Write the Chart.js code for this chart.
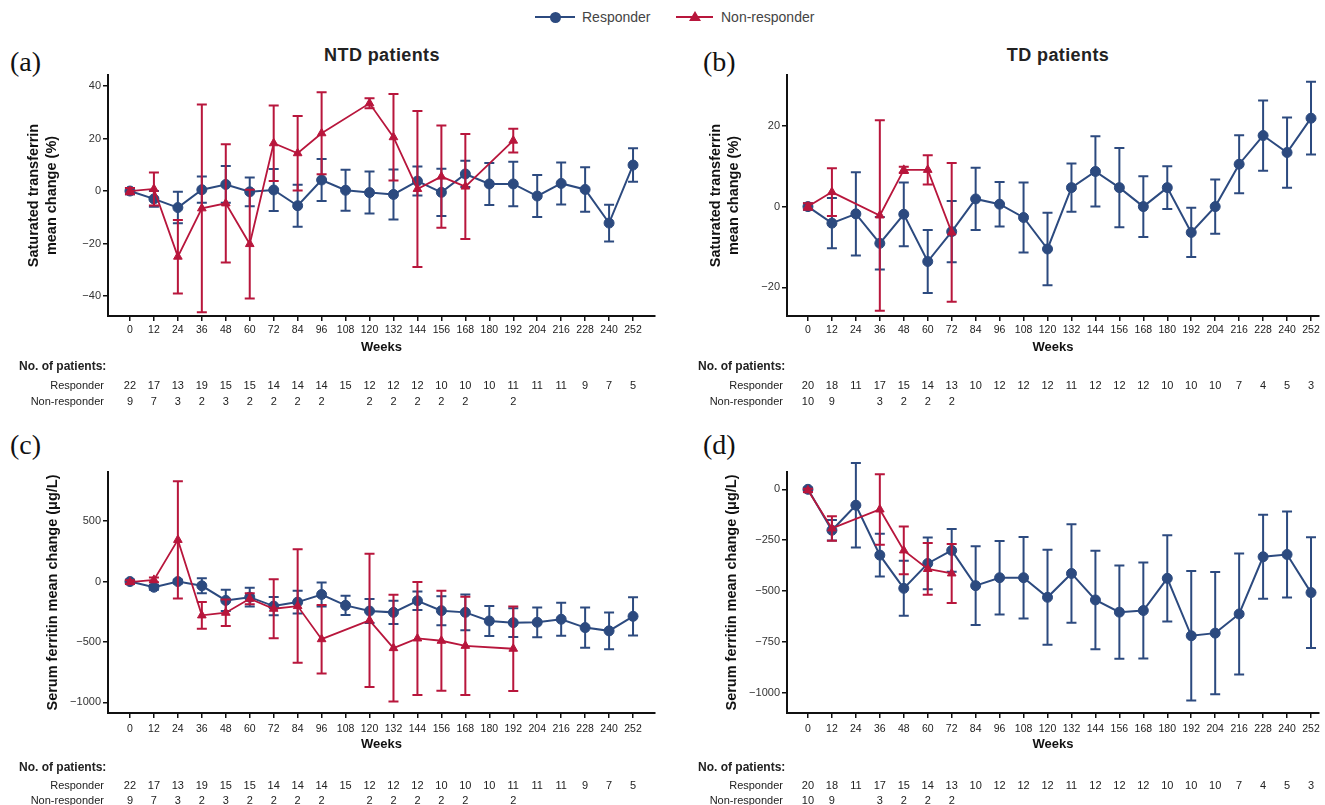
<!DOCTYPE html>
<html>
<head>
<meta charset="utf-8">
<script src="https://cdn.jsdelivr.net/npm/chart.js@4.4.1/dist/chart.umd.min.js"></script>
<style>
  body { margin: 0; background: #fff; width: 1325px; height: 805px; position: relative; overflow: hidden; font-family: "Liberation Sans", Arial, sans-serif; }
  canvas { position: absolute; }
  .rotulo { position: absolute; font-family: "Liberation Serif", "Times New Roman", serif; font-size: 28px; line-height: 28px; color: #111; }
  .titulo { position: absolute; font-weight: bold; font-size: 18px; letter-spacing: 0.4px; color: #222; transform: translateX(-50%); white-space: nowrap; line-height: 20px; }
  .leg-linha { position: absolute; height: 2px; }
  .leg-texto { position: absolute; font-size: 14px; color: #444; line-height: 16px; }
</style>
</head>
<body>

<div class="leg-linha" style="left:535px; top:16px; width:40px; background:#2c4a7f"></div>
<div style="position:absolute; left:550px; top:12px; width:11px; height:11px; border-radius:50%; background:#2c4a7f"></div>
<div class="leg-texto" style="left:582px; top:9px">Responder</div>
<div class="leg-linha" style="left:676px; top:16px; width:37px; background:#b8163c"></div>
<div style="position:absolute; left:689px; top:11px; width:0; height:0; border-left:6px solid transparent; border-right:6px solid transparent; border-bottom:10px solid #b8163c"></div>
<div class="leg-texto" style="left:721px; top:9px">Non-responder</div>

<div class="rotulo" style="left:10px; top:48px">(a)</div>
<div class="rotulo" style="left:703px; top:48px">(b)</div>
<div class="rotulo" style="left:10px; top:431px">(c)</div>
<div class="rotulo" style="left:703px; top:431px">(d)</div>
<div class="titulo" style="left:382px; top:45px">NTD patients</div>
<div class="titulo" style="left:1058px; top:45px">TD patients</div>

<canvas id="painelA" width="662" height="375" style="left:0; top:40px"></canvas>
<canvas id="painelB" width="663" height="375" style="left:662px; top:40px"></canvas>
<canvas id="painelC" width="662" height="385" style="left:0; top:420px"></canvas>
<canvas id="painelD" width="663" height="385" style="left:662px; top:420px"></canvas>

<script>
const azul = '#2c4a7f';
const vermelho = '#b8163c';

const semanas = [0, 12, 24, 36, 48, 60, 72, 84, 96, 108, 120, 132, 144, 156, 168, 180, 192, 204, 216, 228, 240, 252];

// (a) NTD - saturacao de transferrina
const ntdTsatResp = [0, -3, -6.3, 0.5, 2.5, -0.3, 0.4, -5.6, 4.2, 0.3, -0.6, -1.3, 3.8, -0.5, 6.5, 2.7, 2.7, -1.9, 2.9, 0.6, -12.2, 9.9];
const ntdTsatRespErr = [1.2, 3, 6, 5, 7, 5.5, 8, 8, 8, 7.8, 8, 9.5, 5.5, 9, 5, 8, 8.5, 8, 8, 8.5, 7, 6.4];
const ntdTsatNon = [0, 0.8, -25, -6.6, -4.7, -20.2, 18.2, 14.4, 22, null, 33.4, 20.5, 0.8, 5.5, 1.7, null, 19.2, null, null, null, null, null];
const ntdTsatNonErr = [1.2, 6.3, 14, 39.6, 22.5, 20.7, 14.4, 14.2, 15.6, null, 1.9, 16.5, 29.7, 19.5, 20, null, 4.5, null, null, null, null, null];

// (b) TD - saturacao de transferrina
const tdTsatResp = [0, -4.1, -1.8, -9.1, -1.9, -13.6, -6.2, 1.9, 0.6, -2.7, -10.5, 4.7, 8.7, 4.7, 0, 4.7, -6.4, 0, 10.5, 17.6, 13.4, 21.9];
const tdTsatRespErr = [0.8, 6.2, 10.3, 6.5, 7.9, 7.8, 7.6, 7.7, 5.5, 8.7, 9, 6, 8.7, 9.8, 7.5, 5.3, 6.1, 6.7, 7.2, 8.7, 8.7, 9];
const tdTsatNon = [0, 3.6, null, -2.2, 9.1, 9.1, -6.4, null, null, null, null, null, null, null, null, null, null, null, null, null, null, null];
const tdTsatNonErr = [0.8, 5.9, null, 23.6, 0.8, 3.6, 17.2, null, null, null, null, null, null, null, null, null, null, null, null, null, null, null];

// (c) NTD - ferritina serica
const ntdFerrResp = [0, -47, 0, -35, -156, -129, -203, -170, -107, -197, -244, -255, -159, -241, -255, -326, -340, -337, -312, -381, -408, -288];
const ntdFerrRespErr = [15, 20, 15, 62, 88, 78, 75, 95, 100, 80, 100, 96, 77, 120, 148, 124, 119, 123, 136, 166, 152, 158];
const ntdFerrNon = [-5, 14, 345, -280, -258, -142, -225, -203, -477, null, -321, -551, -471, -490, -532, null, -556, null, null, null, null, null];
const ntdFerrNonErr = [15, 20, 485, 110, 110, 45, 245, 470, 284, null, 551, 441, 468, 414, 407, null, 350, null, null, null, null, null];

// (d) TD - ferritina serica
const tdFerrResp = [0, -201, -78, -323, -486, -364, -300, -473, -434, -434, -530, -413, -543, -603, -595, -437, -719, -706, -612, -331, -320, -507];
const tdFerrRespErr = [8, 50, 207, 105, 135, 127, 105, 193, 180, 200, 233, 242, 242, 229, 236, 212, 318, 300, 297, 206, 211, 272];
const tdFerrNon = [-5, -192, null, -99, -300, -391, -413, null, null, null, null, null, null, null, null, null, null, null, null, null, null, null];
const tdFerrNonErr = [8, 60, null, 173, 117, 127, 145, null, null, null, null, null, null, null, null, null, null, null, null, null, null, null];

// numero de pacientes
const ntdRespN = [22, 17, 13, 19, 15, 15, 14, 14, 14, 15, 12, 12, 12, 10, 10, 10, 11, 11, 11, 9, 7, 5];
const ntdNonN = [9, 7, 3, 2, 3, 2, 2, 2, 2, null, 2, 2, 2, 2, 2, null, 2, null, null, null, null, null];
const tdRespN = [20, 18, 11, 17, 15, 14, 13, 10, 12, 12, 12, 11, 12, 12, 12, 10, 10, 10, 7, 4, 5, 3];
const tdNonN = [10, 9, null, 3, 2, 2, 2, null, null, null, null, null, null, null, null, null, null, null, null, null, null, null];

function pontos(medias, erros) {
  return semanas
    .map((s, i) => medias[i] == null ? null : { x: s, y: medias[i], err: erros[i] })
    .filter(p => p);
}

const barrasErro = {
  id: 'barrasErro',
  beforeDatasetDraw(chart, args) {
    const ds = chart.data.datasets[args.index];
    const escalaY = chart.scales.y;
    const ctx = chart.ctx;
    ctx.save();
    ctx.strokeStyle = ds.borderColor;
    ctx.lineWidth = 2;
    args.meta.data.forEach((el, i) => {
      const d = ds.data[i];
      const topo = escalaY.getPixelForValue(d.y + d.err);
      const base = escalaY.getPixelForValue(d.y - d.err);
      ctx.beginPath();
      ctx.moveTo(el.x, topo); ctx.lineTo(el.x, base);
      ctx.moveTo(el.x - 5, topo); ctx.lineTo(el.x + 5, topo);
      ctx.moveTo(el.x - 5, base); ctx.lineTo(el.x + 5, base);
      ctx.stroke();
    });
    ctx.restore();
  }
};

function tabelaPacientes(resp, non, linhas) {
  return {
    id: 'tabelaPacientes',
    afterDraw(chart) {
      const { ctx, chartArea } = chart;
      const escalaX = chart.scales.x;
      const b = chartArea.bottom;
      ctx.save();
      ctx.fillStyle = '#222';
      ctx.textBaseline = 'middle';
      ctx.font = 'bold 12px "Liberation Sans", Arial';
      ctx.textAlign = 'left';
      ctx.fillText('No. of patients:', chartArea.left - 89, b + linhas[0]);
      ctx.font = '11px "Liberation Sans", Arial';
      ctx.textAlign = 'right';
      ctx.fillText('Responder', chartArea.left - 4, b + linhas[1]);
      ctx.fillText('Non-responder', chartArea.left - 4, b + linhas[2]);
      ctx.textAlign = 'center';
      semanas.forEach((s, i) => {
        const px = escalaX.getPixelForValue(s);
        if (resp[i] != null) ctx.fillText(String(resp[i]), px, b + linhas[1]);
        if (non[i] != null) ctx.fillText(String(non[i]), px, b + linhas[2]);
      });
      ctx.restore();
    }
  };
}

function menos(v) {
  return v < 0 ? '\u2212' + Math.abs(v) : String(v);
}

function criarPainel(id, o) {
  return new Chart(document.getElementById(id), {
    type: 'line',
    data: {
      datasets: [
        {
          label: 'Responder',
          data: pontos(o.resp, o.respErr),
          borderColor: azul, backgroundColor: azul,
          pointStyle: 'circle', pointRadius: 5, pointBorderWidth: 1,
          borderWidth: 2, order: 2
        },
        {
          label: 'Non-responder',
          data: pontos(o.non, o.nonErr),
          borderColor: vermelho, backgroundColor: vermelho,
          pointStyle: 'triangle', pointRadius: 5, pointBorderWidth: 1,
          borderWidth: 1.8, order: 1
        }
      ]
    },
    options: {
      responsive: false,
      animation: false,
      events: [],
      layout: { padding: o.padding },
      plugins: { legend: { display: false }, tooltip: { enabled: false } },
      scales: {
        x: {
          type: 'linear', min: o.xMin, max: o.xMax,
          afterBuildTicks: s => { s.ticks = semanas.map(v => ({ value: v })); },
          afterFit: s => { s.height = 40; },
          ticks: { autoSkip: false, maxRotation: 0, padding: o.xPad, color: '#222', font: { size: 10.5, family: '"Liberation Sans", Arial' } },
          grid: { drawOnChartArea: false, tickLength: 5, color: '#111', lineWidth: 1.5 },
          border: { color: '#111', width: 2 },
          title: { display: true, text: 'Weeks', color: '#111', font: { size: 13, weight: 'bold', family: '"Liberation Sans", Arial' }, padding: { top: 0, bottom: 1 } }
        },
        y: {
          min: o.yMin, max: o.yMax,
          afterBuildTicks: s => { s.ticks = o.yTicks.map(v => ({ value: v })); },
          afterFit: s => { s.width = o.yWidth; },
          ticks: { padding: 2, color: '#333', font: { size: 11, family: '"Liberation Sans", Arial' }, callback: v => menos(v) },
          grid: { drawOnChartArea: false, tickLength: 5, color: '#111', lineWidth: 1.5 },
          border: { color: '#111', width: 2 },
          title: { display: true, text: o.yTitulo, color: '#111', font: { size: 14.5, weight: 'bold', lineHeight: 1.22, family: '"Liberation Sans", Arial' }, padding: { top: o.yTitPad, bottom: 0 } }
        }
      }
    },
    plugins: [barrasErro, tabelaPacientes(o.respN, o.nonN, o.linhas)]
  });
}

criarPainel('painelA', {
  resp: ntdTsatResp, respErr: ntdTsatRespErr, non: ntdTsatNon, nonErr: ntdTsatNonErr,
  respN: ntdRespN, nonN: ntdNonN,
  xMin: -11, xMax: 263, yMin: -47.6, yMax: 44.2, yTicks: [-40, -20, 0, 20, 40],
  yWidth: 108, yTitulo: ['Saturated transferrin', 'mean change (%)'], yTitPad: 25,
  padding: { top: 35, left: 0, right: 7, bottom: 59 }, xPad: 3, linhas: [51, 70, 86]
});

criarPainel('painelB', {
  resp: tdTsatResp, respErr: tdTsatRespErr, non: tdTsatNon, nonErr: tdTsatNonErr,
  respN: tdRespN, nonN: tdNonN,
  xMin: -10.5, xMax: 256, yMin: -27.1, yMax: 32.6, yTicks: [-20, 0, 20],
  yWidth: 125, yTitulo: ['Saturated transferrin', 'mean change (%)'], yTitPad: 45,
  padding: { top: 35, left: 0, right: 3, bottom: 59 }, xPad: 3, linhas: [51, 70, 86]
});

criarPainel('painelC', {
  resp: ntdFerrResp, respErr: ntdFerrRespErr, non: ntdFerrNon, nonErr: ntdFerrNonErr,
  respN: ntdRespN, nonN: ntdNonN,
  xMin: -11, xMax: 263, yMin: -1088, yMax: 907, yTicks: [-1000, -500, 0, 500],
  yWidth: 108, yTitulo: 'Serum ferritin mean change (\u03bcg/L)', yTitPad: 44,
  padding: { top: 52, left: 0, right: 7, bottom: 52 }, xPad: 5, linhas: [55, 73, 88]
});

criarPainel('painelD', {
  resp: tdFerrResp, respErr: tdFerrRespErr, non: tdFerrNon, nonErr: tdFerrNonErr,
  respN: tdRespN, nonN: tdNonN,
  xMin: -10.5, xMax: 256, yMin: -1098, yMax: 85, yTicks: [-1000, -750, -500, -250, 0],
  yWidth: 125, yTitulo: 'Serum ferritin mean change (\u03bcg/L)', yTitPad: 61,
  padding: { top: 52, left: 0, right: 3, bottom: 52 }, xPad: 5, linhas: [55, 73, 88]
});
</script>
</body>
</html>
